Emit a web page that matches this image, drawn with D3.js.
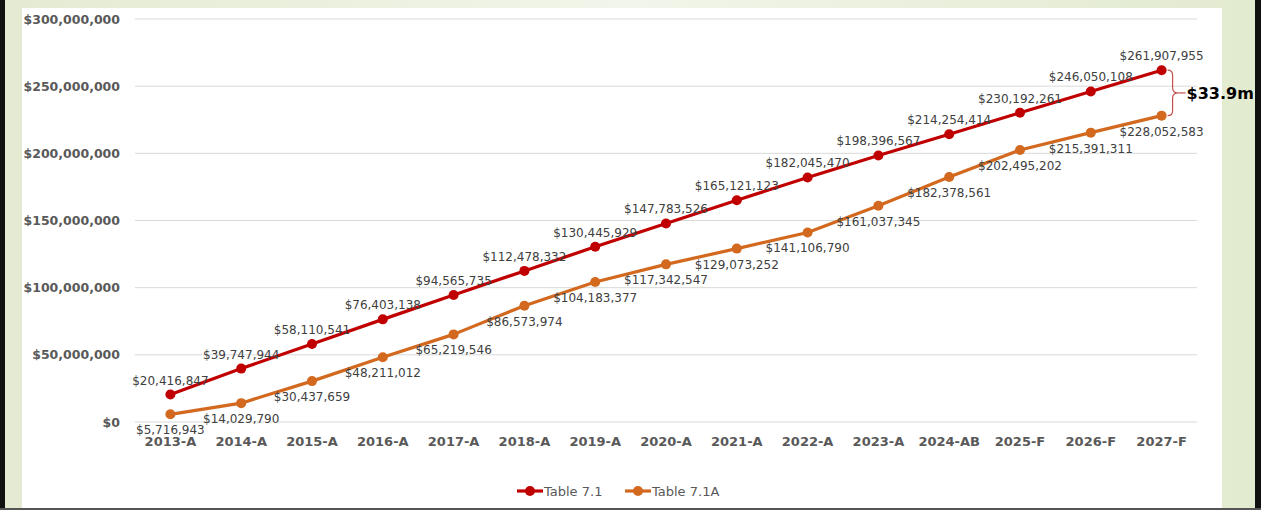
<!DOCTYPE html>
<html><head><meta charset="utf-8">
<script src="https://cdn.jsdelivr.net/npm/d3@7"></script>
<style>html,body{margin:0;padding:0;background:#fff;}svg{display:block;}</style>
</head><body>
<svg id="c" width="1261" height="510"></svg>
<script>
const categories = ["2013-A","2014-A","2015-A","2016-A","2017-A","2018-A","2019-A","2020-A","2021-A","2022-A","2023-A","2024-AB","2025-F","2026-F","2027-F"];
const table71 = [20416847,39747944,58110541,76403138,94565735,112478332,130445929,147783526,165121123,182045470,198396567,214254414,230192261,246050108,261907955];
const table71A = [5716943,14029790,30437659,48211012,65219546,86573974,104183377,117342547,129073252,141106790,161037345,182378561,202495202,215391311,228052583];
const yTicks = [0,50000000,100000000,150000000,200000000,250000000,300000000];
const seriesNames = ["Table 7.1","Table 7.1A"];
const seriesColors = ["#C00000","#D2691E"];
const gapLabel = "$33.9m";

const svg = d3.select("#c");
const W = 1261, H = 510;

// background frame
const defs = svg.append("defs");
const g1 = defs.append("linearGradient").attr("id","bg").attr("x1","0").attr("x2","1").attr("y1","0").attr("y2","0");
g1.append("stop").attr("offset","0").attr("stop-color","#E4EBD2");
g1.append("stop").attr("offset","0.5").attr("stop-color","#F2F5EA");
g1.append("stop").attr("offset","1").attr("stop-color","#E2EACF");
svg.append("rect").attr("x",0).attr("y",0).attr("width",W).attr("height",H).attr("fill","url(#bg)");
svg.append("rect").attr("x",22).attr("y",8).attr("width",1200).attr("height",500).attr("fill","#fff");
svg.append("rect").attr("x",0).attr("y",0).attr("width",5).attr("height",H).attr("fill","#111");
svg.append("rect").attr("x",1255).attr("y",0).attr("width",6).attr("height",H).attr("fill","#111");
svg.append("rect").attr("x",0).attr("y",508).attr("width",W).attr("height",2).attr("fill","#555");

const x = d3.scaleBand().domain(categories).range([135,1197]);
const y = d3.scaleLinear().domain([0,300000000]).range([422,19]);
const fmt = d3.format("$,.0f");
const font = "DejaVu Sans, sans-serif";

// grid + y axis
const yAxis = d3.axisLeft(y).tickValues(yTicks).tickFormat(d => fmt(d)).tickSize(0).tickPadding(15);
const ya = svg.append("g").attr("transform","translate(135,0)").call(yAxis);
ya.select(".domain").remove();
ya.selectAll("text").attr("font-family",font).attr("font-size",12.5).attr("font-weight","bold").attr("fill","#595959");
svg.append("g").selectAll("line").data(yTicks).join("line")
  .attr("x1",135).attr("x2",1197).attr("y1",d=>y(d)).attr("y2",d=>y(d))
  .attr("stroke","#D9D9D9").attr("stroke-width",1);

// x axis
const xAxis = d3.axisBottom(x).tickSize(0).tickPadding(15);
const xa = svg.append("g").attr("transform","translate(0,422)").call(xAxis);
xa.select(".domain").remove();
xa.selectAll("text").attr("font-family",font).attr("font-size",13).attr("font-weight","bold").attr("fill","#595959");

const cx = d => x(d) + x.bandwidth()/2;
const series = [table71, table71A];
const line = d3.line().x((d,i)=>cx(categories[i])).y(d=>y(d));

series.forEach((vals, si) => {
  const g = svg.append("g");
  g.append("path").datum(vals).attr("d",line).attr("fill","none")
    .attr("stroke",seriesColors[si]).attr("stroke-width",3.2).attr("stroke-linejoin","round");
  g.selectAll("circle").data(vals).join("circle")
    .attr("cx",(d,i)=>cx(categories[i])).attr("cy",d=>y(d)).attr("r",5).attr("fill",seriesColors[si]);
});
// labels on top
series.forEach((vals, si) => {
  svg.append("g").selectAll("text").data(vals).join("text")
    .attr("x",(d,i)=>cx(categories[i]))
    .attr("y",d => si===0 ? y(d)-10 : y(d)+20)
    .attr("text-anchor","middle").attr("font-family",font).attr("font-size",12)
    .attr("fill","#404040").text(d=>fmt(d));
});

// brace
const lastI = categories.length-1;
const bx = cx(categories[lastI]) + 6;
const yt = y(table71[lastI]), yb = y(table71A[lastI]), ym = (yt+yb)/2;
const bp = d3.path();
bp.moveTo(bx, yt);
bp.quadraticCurveTo(bx+5, yt, bx+5, yt+5);
bp.lineTo(bx+5, ym-5);
bp.quadraticCurveTo(bx+5, ym, bx+11, ym);
bp.quadraticCurveTo(bx+5, ym, bx+5, ym+5);
bp.lineTo(bx+5, yb-5);
bp.quadraticCurveTo(bx+5, yb, bx, yb);
svg.append("path").attr("d",bp.toString()).attr("fill","none").attr("stroke","#C0504D").attr("stroke-width",1.2);
svg.append("line").attr("x1",bx+11).attr("x2",bx+18).attr("y1",ym).attr("y2",ym).attr("stroke","#C0504D").attr("stroke-width",1.2);
svg.append("text").attr("x",bx+19).attr("y",ym+6).attr("font-family",font).attr("font-size",16)
  .attr("font-weight","bold").attr("fill","#000").text(gapLabel);

// legend
const leg = svg.append("g");
const legX = [517, 625];
seriesNames.forEach((n, i) => {
  const lx = legX[i], ly = 491;
  leg.append("line").attr("x1",lx).attr("x2",lx+26).attr("y1",ly).attr("y2",ly)
    .attr("stroke",seriesColors[i]).attr("stroke-width",3.2);
  leg.append("circle").attr("cx",lx+13).attr("cy",ly).attr("r",5).attr("fill",seriesColors[i]);
  leg.append("text").attr("x",lx+27).attr("y",ly+5).attr("font-family",font).attr("font-size",13)
    .attr("fill","#595959").text(n);
});
</script>
</body></html>
